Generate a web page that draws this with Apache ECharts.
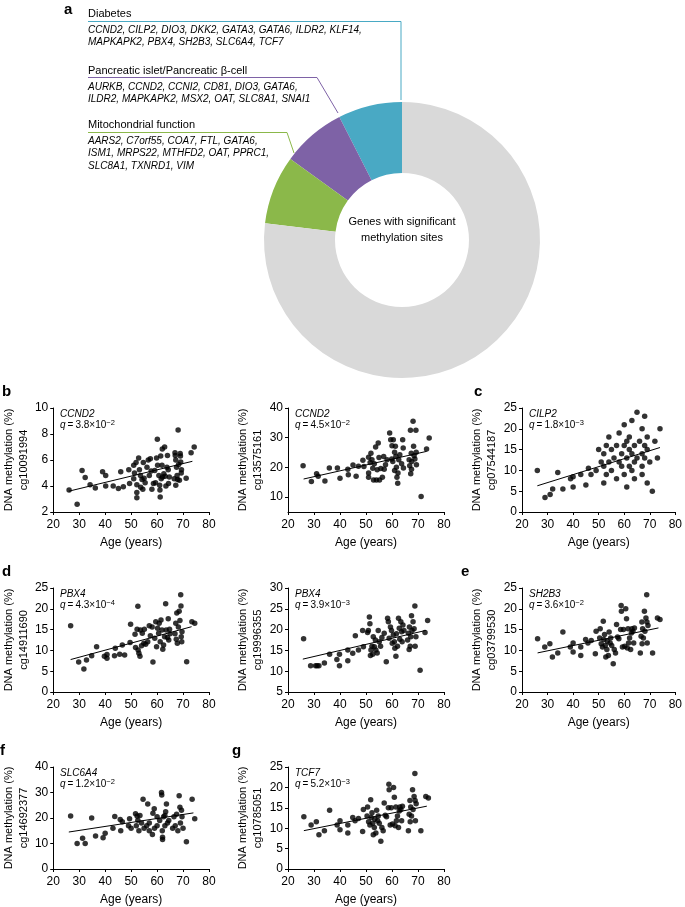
<!DOCTYPE html>
<html><head><meta charset="utf-8">
<script src="https://cdn.jsdelivr.net/npm/echarts@6/dist/echarts.min.js"></script>
<style>html,body{margin:0;padding:0;background:#fff}#c{width:685px;height:907px}</style>
</head><body><div id="c"></div>
<script>
// ---- Donut data (panel a) ----
const donutNames = ['Diabetes','Pancreatic islet/Pancreatic β-cell','Mitochondrial function','Other'];
const donutValues = [27, 27, 29, 277];
const donutColors = ['#49a9c4','#7e62a6','#8bb84a','#d9d9d9'];
const diabetesGenes = ['CCND2, CILP2, DIO3, DKK2, GATA3, GATA6, ILDR2, KLF14,','MAPKAPK2, PBX4, SH2B3, SLC6A4, TCF7'];
const isletGenes = ['AURKB, CCND2, CCNI2, CD81, DIO3, GATA6,','ILDR2, MAPKAPK2, MSX2, OAT, SLC8A1, SNAI1'];
const mitoGenes = ['AARS2, C7orf55, COA7, FTL, GATA6,','ISM1, MRPS22, MTHFD2, OAT, PPRC1,','SLC8A1, TXNRD1, VIM'];

// ---- Scatter panels ----
const geneNames = ['CCND2','CCND2','CILP2','PBX4','PBX4','SH2B3','SLC6A4','TCF7'];
const qMant = ['3.8','4.5','1.8','4.3','3.9','3.6','1.2','5.2'];
const qExp = ['−2','−2','−3','−4','−3','−2','−2','−3'];
const cpgNames = ['cg10091994','cg13575161','cg07544187','cg14911690','cg19996355','cg03799530','cg14692377','cg10785051'];
const yMins = [2,5,0,0,5,0,0,0];
const yMaxs = [10,40,25,25,30,25,40,25];
const yTicks = [[2,4,6,8,10],[10,20,30,40],[0,5,10,15,20,25],[0,5,10,15,20,25],[5,10,15,20,25,30],[0,5,10,15,20,25],[0,10,20,30,40],[0,5,10,15,20,25]];

const ptsB1 = [[26.1,3.7],[29.2,2.6],[31.1,5.2],[32.3,4.65],[34.2,4.1],[36.2,3.85],[39,5.1],[40.2,4.8],[40.2,4.0],[43.1,4.0],[45.1,3.8],[46,5.1],[47,3.95],[49.1,5.25],[49.4,4.2],[51,5.6],[51,4.55],[51.3,5.0],[51.9,5.8],[52.2,4.1],[52.2,3.5],[52.2,3.1],[52.9,6.15],[53.2,5.25],[53.6,4.8],[53.7,3.9],[54.2,4.5],[54.5,3.75],[54.7,5.8],[55,4.6],[55.4,4.25],[56.1,5.45],[56.6,6.0],[57,4.8],[57.4,6.1],[57.7,5.15],[58,3.75],[58.6,4.2],[59.1,5.2],[59.4,4.25],[59.8,6.15],[60.1,7.6],[60.2,5.6],[60.7,4.8],[61,4.05],[61.1,3.7],[61.2,3.15],[61.4,6.3],[61.6,4.55],[61.9,5.6],[62,6.85],[62.1,4.7],[62.6,4.95],[62.9,7.0],[63.1,4.75],[63.4,4.0],[63.8,5.45],[64,6.35],[64.3,5.25],[64.4,4.2],[64.7,4.7],[66.6,4.55],[66.9,6.55],[67,6.35],[67.2,6.0],[67.2,4.05],[67.5,5.45],[67.7,4.8],[67.9,4.5],[68.1,8.3],[68.3,5.65],[68.6,4.45],[68.9,6.5],[69,6.3],[69.1,5.85],[69.3,5.0],[69.4,5.25],[71.2,4.6],[73.1,6.55],[74.3,7.0]];
const ptsB2 = [[25.8,20.6],[29,15.3],[31,17.9],[31.6,17],[34.2,15.4],[35.9,19.8],[39,19.8],[40,16.4],[43,19.4],[43.2,17.5],[45,20.8],[46.2,17],[47.1,20.4],[48.8,22.4],[49.2,20.3],[51,23.4],[51,18.1],[51,16.7],[51.6,21.7],[51.9,24.8],[52.3,22.6],[52.6,19.7],[52.9,15.8],[53.2,21.2],[53.7,26.9],[54,15.8],[54.3,19.2],[54.7,28.2],[55,23.3],[55.2,15.8],[55.7,19.6],[56.3,16.7],[56.8,23.7],[57,19.4],[57.5,20.9],[58.1,22.6],[59.1,31.6],[59.5,29.3],[59.9,22.8],[60,27.3],[60.3,22],[60.5,29.3],[61,25.1],[61,19],[61.3,27.1],[61.5,23.7],[61.7,20.1],[61.9,16.7],[62.2,14.7],[62.3,18.1],[62.6,22.6],[63,24.3],[63.7,21.2],[64.1,29.3],[64.3,26.5],[64.4,19.8],[66.6,22.6],[66.8,20.6],[67.1,32.5],[67.2,17.9],[67.4,24.8],[67.5,19.4],[67.6,22],[68.1,35.5],[68.3,27.1],[68.5,23.9],[68.8,22.8],[69.2,32.5],[69.3,25.1],[69.4,20.9],[71.2,10.2],[73.3,26.2],[74.3,29.9]];
const ptsC = [[26,10],[29,3.5],[31,4.2],[32,5.5],[34,9.5],[36,5.5],[39,8],[40,6],[40,8.5],[43,9],[45,6.5],[46,10.5],[47,9],[49,10],[50,15],[51,12],[52,11],[52,14],[52,7],[53,16],[53,9],[54,12],[54,18],[55,15],[55,10],[56,13],[57,16],[57,8],[58,12],[58,19],[59,14],[59,11],[60,9],[60,21],[60,16],[61,13],[61,17],[61,6],[62,15],[62,11],[62,18],[63,22],[63,14],[63,10],[64,16],[64,12],[64,8],[65,24],[65,13],[66,17],[67,14],[67,20],[67,9],[67,11],[68,16],[68,23],[68,13],[69,18],[69,15],[69,7],[70,12],[71,5],[72,17],[73,13],[74,20]];
const ptsD1 = [[26.7,15.9],[29.8,7.2],[31.8,5.5],[32.8,7.7],[34.8,8.7],[36.7,10.9],[39.7,8.6],[40.7,8.1],[40.7,9],[43.6,8.7],[43.9,10.5],[45.6,9.1],[46.6,11.3],[47.5,8.9],[49.6,11.9],[49.8,16.3],[51.5,13.9],[51.7,10.7],[52.3,15.1],[52.6,20.6],[52.7,10.1],[53,9.3],[53.4,8.6],[53.6,14.9],[54,11.1],[54.3,14.1],[54.9,11.7],[55.1,15.1],[55.6,11.5],[56.4,12.1],[57,15.9],[57.4,13.5],[58.1,15.6],[58.4,7.2],[59.1,12.9],[59.5,16.9],[59.8,10.9],[60.2,15.3],[60.6,14.1],[60.8,16.5],[61.2,12.1],[61.5,17.3],[61.9,14.9],[62.2,10.3],[62.5,11.3],[62.9,13.3],[63.3,21.2],[63.5,14.9],[64,13.1],[64.3,17.6],[64.5,12.5],[64.8,15.1],[65,14],[66.9,14],[67.2,16.5],[67.4,12.7],[67.6,19],[67.8,11.7],[68.2,15.6],[68.5,19.4],[68.8,17.2],[69.1,23.4],[69.2,20.7],[69.3,13.3],[69.5,12.1],[69.6,14.5],[71.4,7.3],[73.4,16.9],[74.5,16.5]];
const ptsD2 = [[26,17.8],[28.7,11.3],[30.6,11.3],[31.2,11.3],[31.9,11.3],[34,12],[36,14.1],[38.8,12.8],[39.8,14.1],[39.8,11.3],[43,12.5],[43,15.1],[44.9,14.3],[45.9,18.5],[47.1,15.1],[48.7,19.8],[49,15.9],[50.6,19.3],[50.9,19.8],[51.3,23],[51.5,21.4],[51.7,13.8],[51.9,15.1],[52.3,16],[52.6,14.1],[52.8,18.3],[53.2,15.9],[53.6,17.5],[53.8,15.1],[54.3,14.4],[54.7,19.8],[55.1,17.1],[55.6,16],[56.1,18.1],[57,19.1],[57.8,12.3],[58.3,22.7],[58.6,21.9],[58.9,17.9],[59.4,20.6],[59.8,19.8],[60.1,16.7],[60.5,18.7],[60.9,17.1],[61.1,15.5],[61.5,13.6],[61.7,19],[62.1,16],[62.5,22.7],[62.8,20.3],[63,17.7],[63.4,21.9],[63.7,19.5],[63.9,17.1],[64.2,21.1],[64.6,19.8],[66,17.5],[66.3,19.1],[66.6,15.2],[66.7,20.6],[67,16],[67.2,18.3],[67.5,23.3],[67.7,19.8],[68.1,21.9],[68.5,20.2],[68.8,25.7],[68.9,16],[69.2,18.3],[70.8,10.2],[72.7,19.3],[73.7,22.2]];
const ptsE = [[26.1,12.8],[28.9,10.8],[30.9,11.6],[31.9,8.4],[34,9.4],[36,14.4],[38.9,10.8],[40,11.8],[40,9.6],[43,8.8],[43,10.8],[44.9,12.6],[45.8,11.8],[47.1,12.4],[48.7,9.2],[49,14.6],[50.4,13],[50.6,15.2],[51,11.6],[51.5,10.8],[51.8,17],[52,12.6],[52.3,13.8],[52.6,11.2],[52.8,8.4],[53.2,10.2],[53.4,12.2],[53.8,8.8],[54.1,14.4],[54.5,11.8],[54.7,13],[55.1,11.2],[55.7,6.8],[56.1,10.2],[56.6,9.4],[57,16.2],[57.4,13.2],[57.9,12.8],[58.6,15],[58.8,20.8],[58.9,19.4],[59.3,10.8],[59.7,15],[60.2,11],[60.6,20],[60.9,17.6],[61.2,10.6],[61.5,15.2],[61.7,11.8],[62.1,13],[62.5,10.2],[62.8,14.2],[63,15.2],[63.4,14.6],[63.7,11.8],[64,15.4],[66.3,9.4],[66.6,13.4],[66.9,16.8],[67,11.6],[67.2,15.2],[67.5,13],[67.9,19.4],[68.1,14.6],[68.5,17.8],[68.8,23.4],[68.9,16.8],[69,11.8],[69.3,16],[71.1,9.4],[73,17.8],[74,17.4]];
const ptsF = [[26.7,20.8],[29.2,10],[31.3,12.1],[32.3,10],[34.8,20],[36.3,12.9],[39.2,12.3],[40,14],[43.7,20.6],[43,16],[45.8,19.4],[46.6,18.5],[46,15],[49.4,19.7],[49,17],[50,16],[51.7,21.7],[52.3,20.8],[52.6,19.1],[52,17],[53.4,21],[53,15],[54.6,27.4],[54,18],[55,16],[56.4,25.5],[56,17],[57,15],[57,18],[58.2,13.5],[58.4,21.9],[58.9,23.6],[59,16],[60,17],[60,20.5],[61,19],[61.7,30],[61.8,29],[62.1,12.5],[62.1,11.6],[62,15],[62.5,20.5],[63,21],[63,17],[63.6,25.5],[63.3,22.5],[64,18],[64.5,19],[66,16],[66.5,20.5],[67,17],[67.5,21.5],[68,15],[68.5,28.7],[68.8,24.2],[69,18],[69.4,23],[69.6,20.5],[70,16],[71.3,10.7],[73.5,27.4],[74.5,19.7]];
const ptsG = [[26.1,12.8],[28.9,10.8],[30.9,11.6],[31.9,8.4],[34,9.4],[36,14.4],[38.9,10.8],[40,11.8],[40,9.6],[43,8.8],[43,10.8],[44.9,12.6],[45.8,11.8],[47.1,12.4],[48.7,9.2],[49,14.6],[50.4,13],[50.6,15.2],[51,11.6],[51.5,10.8],[51.8,17],[52,12.6],[52.3,13.8],[52.6,11.2],[52.8,8.4],[53.2,10.2],[53.4,12.2],[53.8,8.8],[54.1,14.4],[54.5,11.8],[54.7,13],[55.1,11.2],[55.7,6.8],[56.1,10.2],[56.6,9.4],[57,16.2],[57.4,13.2],[57.9,12.8],[58.6,15],[58.8,20.8],[58.9,19.4],[59.3,10.8],[59.7,15],[60.2,11],[60.6,20],[60.9,17.6],[61.2,10.6],[61.5,15.2],[61.7,11.8],[62.1,13],[62.5,10.2],[62.8,14.2],[63,15.2],[63.4,14.6],[63.7,11.8],[64,15.4],[66.3,9.4],[66.6,13.4],[66.9,16.8],[67,11.6],[67.2,15.2],[67.5,13],[67.9,19.4],[68.1,14.6],[68.5,17.8],[68.8,23.4],[68.9,16.8],[69,11.8],[69.3,16],[71.1,9.4],[73,17.8],[74,17.4]];
const panelPoints = [ptsB1, ptsB2, ptsC, ptsD1, ptsD2, ptsE, ptsF, ptsG];

const trendB1 = [[26,3.6],[73.6,5.9]];
const trendB2 = [[26,16.1],[73.3,25.4]];
const trendC = [[26,6.3],[74,15.5]];
const trendD1 = [[26.7,7.8],[73.3,15.7]];
const trendD2 = [[25.7,12.9],[73,19.8]];
const trendE = [[26.1,9.4],[73.4,15.4]];
const trendF = [[26,14.5],[74,22]];
const trendG = [[26.1,9.4],[73.4,15.4]];
const panelTrends = [trendB1, trendB2, trendC, trendD1, trendD2, trendE, trendF, trendG];

const panelLetters = ['a','b','c','d','e','f','g'];

// ---- layout ----
const colLeft = [53, 288, 522];
const rowTop = [408, 588, 767];
const gW = 156, gH = 104;
const panelCell = [[0,0],[0,1],[0,2],[1,0],[1,1],[1,2],[2,0],[2,1]];
const FONT = '"Liberation Sans", Arial, Helvetica, sans-serif';

const grids = [], xAxes = [], yAxes = [], series = [], graphics = [];

panelCell.forEach(([r,c], i) => {
  grids.push({left: colLeft[c], top: rowTop[r], width: gW, height: gH});
  xAxes.push({
    gridIndex: i, type: 'value', min: 20, max: 80, interval: 10,
    axisLine: {lineStyle: {color: '#000', width: 1}},
    axisTick: {length: 3, lineStyle: {color: '#000'}},
    axisLabel: {color: '#000', fontSize: 12, margin: 7, fontFamily: FONT},
    splitLine: {show: false},
    name: 'Age (years)', nameLocation: 'middle', nameGap: 25,
    nameTextStyle: {color: '#000', fontSize: 12, fontFamily: FONT}
  });
  yAxes.push({
    gridIndex: i, type: 'value', min: yMins[i], max: yMaxs[i],
    axisLine: {show: true, lineStyle: {color: '#000', width: 1}},
    axisTick: {show: true, length: 3, lineStyle: {color: '#000'}, customValues: yTicks[i]},
    axisLabel: {color: '#000', fontSize: 12, margin: 5, fontFamily: FONT, customValues: yTicks[i]},
    splitLine: {show: false},
    name: 'DNA methylation (%)\n' + cpgNames[i], nameLocation: 'middle', nameRotate: 90, nameGap: 19,
    nameTextStyle: {color: '#000', fontSize: 11, fontFamily: FONT, lineHeight: 15}
  });
  series.push({
    type: 'scatter', xAxisIndex: i, yAxisIndex: i, data: panelPoints[i],
    symbolSize: 5.5, itemStyle: {color: '#000'}, silent: true
  });
  series.push({
    type: 'line', xAxisIndex: i, yAxisIndex: i, data: panelTrends[i],
    symbol: 'none', lineStyle: {color: '#000', width: 1}, silent: true
  });
  const gx = colLeft[c] + 7, gy = rowTop[r] + 1;
  graphics.push({type: 'text', left: gx, top: gy, silent: true, z: 100,
    style: {text: geneNames[i], font: 'italic 10px ' + FONT, fill: '#000'}});
  graphics.push({type: 'text', left: gx, top: gy + 10, silent: true, z: 100,
    style: {
      text: '{q|q}{t|\u2009=\u2009' + qMant[i] + '×10}{s|' + qExp[i] + '}',
      rich: {
        q: {font: 'italic 10px ' + FONT, fill: '#000', lineHeight: 13},
        t: {font: '10px ' + FONT, fill: '#000', lineHeight: 13},
        s: {font: '7.5px ' + FONT, fill: '#000', verticalAlign: 'top', lineHeight: 13, padding: [0,0,5,0]}
      }
    }});
});

// panel letters
const letterPos = [[64,2],[2,384],[474,384],[2,564],[461,564],[0,743],[232,743]];
letterPos.forEach((p, k) => {
  graphics.push({type: 'text', left: p[0], top: p[1], silent: true, z: 100,
    style: {text: panelLetters[k], font: 'bold 15px ' + FONT, fill: '#000'}});
});

// donut annotation text
function addBlock(title, lines, y0) {
  graphics.push({type: 'text', left: 88, top: y0, silent: true,
    style: {text: title, font: '11px ' + FONT, fill: '#000'}});
  lines.forEach((ln, j) => graphics.push({type: 'text', left: 88, top: y0 + 17 + j * 12.7, silent: true,
    style: {text: ln, font: 'italic 10px ' + FONT, fill: '#000'}}));
}
addBlock(donutNames[0], diabetesGenes, 8);
addBlock(donutNames[1], isletGenes, 65);
addBlock(donutNames[2], mitoGenes, 119);

// leader lines
graphics.push({type: 'polyline', silent: true, shape: {points: [[88,21.5],[401,21.5],[401,100]]}, style: {stroke: donutColors[0], lineWidth: 1, fill: null}});
graphics.push({type: 'polyline', silent: true, shape: {points: [[88,77.5],[317,77.5],[338,113]]}, style: {stroke: donutColors[1], lineWidth: 1, fill: null}});
graphics.push({type: 'polyline', silent: true, shape: {points: [[88,132.5],[287,132.5],[294,153]]}, style: {stroke: donutColors[2], lineWidth: 1, fill: null}});

// centre text
graphics.push({type: 'text', x: 402, y: 230, silent: true, z: 100,
  style: {text: 'Genes with significant\nmethylation sites', font: '11px ' + FONT, fill: '#000', align: 'center', verticalAlign: 'middle', lineHeight: 16}});

series.push({
  type: 'pie', center: [402, 240], radius: [67, 138], startAngle: 90, clockwise: false,
  label: {show: false}, labelLine: {show: false}, silent: true, animation: false,
  itemStyle: {borderWidth: 0},
  data: donutValues.map((v, k) => ({value: v, name: donutNames[k], itemStyle: {color: donutColors[k]}}))
});

const chart = echarts.init(document.getElementById('c'), null, {renderer: 'canvas'});
chart.setOption({
  animation: false,
  grid: grids, xAxis: xAxes, yAxis: yAxes, series: series, graphic: graphics
});
</script>
</body></html>
